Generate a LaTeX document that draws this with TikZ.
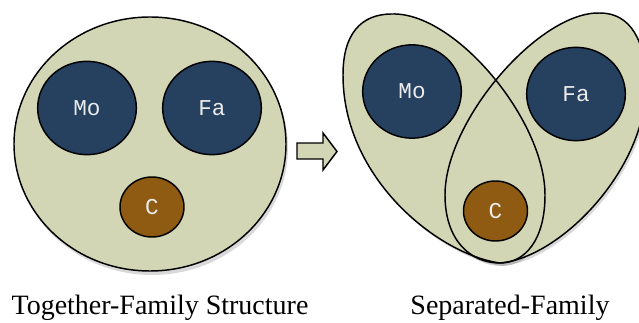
\documentclass[tikz,border=0pt]{standalone}
\usepackage{fontspec}
\setmainfont{Liberation Serif}
\newfontfamily\memberfont{Liberation Mono}
\usetikzlibrary{shapes.geometric}

\definecolor{famfill}{RGB}{210,214,180}
\definecolor{parentblue}{RGB}{38,64,96}
\definecolor{childbrown}{RGB}{143,90,18}

% outlines of the two separated families
\newcommand{\moegg}{(500,263) .. controls (440,255) and (343,180) .. (343,75) .. controls (343,35) and (360,14) .. (392,14) .. controls (455,12) and (545,120) .. (545,195) .. controls (545,240) and (525,263) .. cycle}
\newcommand{\faegg}{(500,263) .. controls (560,258) and (646,170) .. (646,85) .. controls (646,40) and (630,13) .. (600,13) .. controls (540,11) and (445,120) .. (445,195) .. controls (445,240) and (470,263) .. cycle}

\tikzset{every picture/.style={line width=0.75pt}}
\tikzset{
  famline/.style={draw=black, line width=1.1pt},
  famshape/.style={famline, fill=famfill},
  shade/.style={fill=black, opacity=0.15},
  parent/.style={ellipse, famline, fill=parentblue, text=white!92!black,
    font=\memberfont\fontsize{17}{17}\selectfont, inner sep=0pt,
    minimum width=74pt, minimum height=70pt},
  child/.style={parent, fill=childbrown, minimum width=48pt, minimum height=45pt},
  caption/.style={anchor=base, inner sep=0pt, font=\fontsize{21}{24}\selectfont}
}

\begin{document}
\begin{tikzpicture}[x=0.75pt,y=0.75pt,yscale=-1,xscale=1]
\useasboundingbox (0,0) rectangle (639,323);

% Together: big circle
\fill [shade] (152,148) ellipse [x radius=136, y radius=127];
\draw [famshape] (150,144) ellipse [x radius=136, y radius=127];

% Together: members
\node [parent] (momT) at (87,108) {Mo};
\node [parent] (dadT) at (212,108) {Fa};
\node [child] (kidT) at (152,207) {C};

% Block arrow
\draw [famshape] (297,143) -- (323,143) -- (323,133) -- (337,151.5) -- (323,170) -- (323,159) -- (297,159) -- cycle;

% Separated: two overlapping shapes
\fill [shade, shift={(2,3)}] \moegg;
\fill [shade, shift={(2,3)}] \faegg;
\fill [famfill] \moegg;
\fill [famfill] \faegg;
\draw [famline] \moegg;
\draw [famline] \faegg;

% Separated: members
\node [parent] (momS) at (412,91.5) {Mo};
\node [parent] (dadS) at (576,94) {Fa};
\node [child] (kidS) at (495.5,211) {C};

% Text Node
\node [caption] (capT) at (160,315) {Together-Family Structure};
% Text Node
\node [caption] (capS) at (510,315) {Separated-Family};

\end{tikzpicture}
\end{document}
